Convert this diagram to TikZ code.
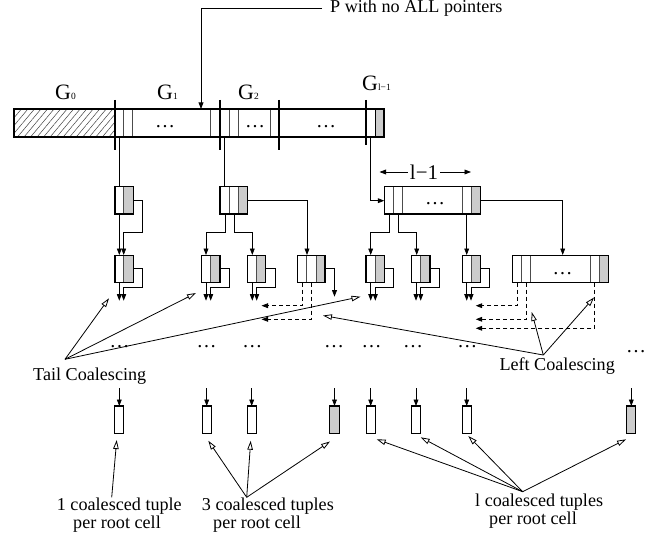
\documentclass[tikz,border=0pt]{standalone}
\usepackage{fontspec}
\setmainfont{Liberation Serif}
\usetikzlibrary{arrows.meta,patterns.meta}
\definecolor{cellgray}{RGB}{204,204,204}
\tikzset{
 ln/.style={line width=0.8bp},
 boxl/.style={line width=1.1bp},
 slot/.style={line width=0.7bp, black!70},
 sep/.style={line width=2.2bp},
 arr/.style={ln, -{Triangle[length=6.5bp,width=4.8bp]}},
 oarr/.style={ln, -{Triangle[length=9bp,width=5.5bp,fill=white]}},
 darr/.style={arr, dash pattern=on 4bp off 3bp},
 lbl/.style={inner sep=0pt, font=\fontsize{18.2}{20}\selectfont, anchor=base west},
 dotsn/.style={inner sep=0pt, font=\fontsize{20}{20}\selectfont, anchor=base},
 glbl/.style={inner sep=0pt, anchor=base west},
}
\newcommand\mycell[5]{%
 \fill[cellgray] (#2,255.3) rectangle (#3,282.7);
 \draw[slot] (#2,255.3) -- (#2,282.7);
 \draw[boxl] (#1,255.3) rectangle (#3,282.7);
 \draw[arr] (#3,268.7) -- (#4,268.7) -- (#4,287.3) -- (#2,287.3) -- (#2,300.7);
 \draw[arr] (#5,282.7) -- (#5,300.7);
}
\newcommand\myleaf[2]{%
 \fill[#2] (#1-4.6,406) rectangle (#1+4.6,433.3);
 \draw[boxl] (#1-4.6,406) rectangle (#1+4.6,433.3);
 \draw[arr] (#1,388) -- (#1,406);
}
\begin{document}
\begin{tikzpicture}[x=1bp,y=-1bp]
\useasboundingbox (0,0) rectangle (660,539);

% ---------- top bar ----------
\fill[cellgray] (375.7,109) rectangle (384,137);
\fill[pattern={Lines[angle=50,distance=5bp,line width=0.5bp]}, pattern color=black!75] (14,109) rectangle (115,137);
\foreach \x in {123.7,132.7,210.7,229.3,238,270.7} \draw[slot] (\x,109) -- (\x,137);
\draw[boxl] (375.7,109) -- (375.7,137);
\draw[boxl] (14,109) rectangle (384,137);
\foreach \x in {115,220,279.3} \draw[sep] (\x,100) -- (\x,150);
\draw[sep] (366,100) -- (366,145);
\node[dotsn] (d1) at (165,128) {…};
\node[dotsn] (d2) at (255,128) {…};
\node[dotsn] (d3) at (326,128) {…};

\node[glbl] (g0) at (55,100) {{\fontsize{22}{22}\selectfont G}{\fontsize{9.5}{9.5}\selectfont 0}};
\node[glbl] (g1) at (157,100) {{\fontsize{22}{22}\selectfont G}{\fontsize{9.5}{9.5}\selectfont 1}};
\node[glbl] (g2) at (238,100) {{\fontsize{22}{22}\selectfont G}{\fontsize{9.5}{9.5}\selectfont 2}};
\node[glbl] (gl) at (362,91) {{\fontsize{22}{22}\selectfont G}{\fontsize{9.5}{9.5}\selectfont l−1}};

\node[lbl] (ptxt) at (330,12.7) {P with no ALL pointers};
\coordinate (pfrom) at (322,8);
\coordinate (pto) at (201,109);
\draw[arr] (pfrom) -| (pto);

% ---------- drops from bar ----------
\draw[ln] (119.3,137) -- (119.3,186.7);
\draw[ln] (224.3,137) -- (224.3,186.7);
\draw[arr] (370.7,137) |- (384.3,200.7);

% ---------- left column (G1) ----------
\fill[cellgray] (123.7,186.7) rectangle (133.3,214);
\draw[slot] (123.7,186.7) -- (123.7,214);
\draw[boxl] (115,186.7) rectangle (133.3,214);
\draw[arr] (119.3,214) -- (119.3,255);
\draw[arr] (133.3,200.7) -- (142.3,200.7) -- (142.3,232.3) -- (123.7,232.3) -- (123.7,255);
\mycell{115}{123.7}{133.3}{142.3}{119.3}

% ---------- middle column (G2) ----------
\fill[cellgray] (238.3,186.7) rectangle (247.3,214);
\draw[slot] (229,186.7) -- (229,214);
\draw[slot] (238.3,186.7) -- (238.3,214);
\draw[boxl] (220,186.7) rectangle (247.3,214);
\draw[arr] (247.3,200.7) -| (307,255);
\draw[arr] (225,214) -- (225,232.3) -- (206,232.3) -- (206,255);
\draw[arr] (234,214) -- (234,232.3) -- (252.3,232.3) -- (252.3,255);
\mycell{201.7}{210.7}{220}{229.3}{206}
\mycell{247.3}{256.7}{265.7}{275}{252.3}
\fill[cellgray] (316,255.3) rectangle (325,282.7);
\draw[slot] (306.7,255.3) -- (306.7,282.7);
\draw[slot] (316,255.3) -- (316,282.7);
\draw[boxl] (297.3,255.3) rectangle (325,282.7);
\draw[arr] (325,268.7) -- (334.5,268.7) -- (334.5,296.7);
\draw[darr] (302,282.7) |- (261.5,305.7);
\draw[darr] (311.3,282.7) |- (261.5,319.3);

% ---------- right column (G_{l-1}) ----------
\fill[cellgray] (471,186.7) rectangle (480.7,214);
\foreach \x in {393.3,402.3,462.3,471} \draw[slot] (\x,186.7) -- (\x,214);
\draw[boxl] (384.3,186.7) rectangle (480.7,214);
\node[dotsn] (d4) at (435,204.5) {…};
\node[inner sep=2bp, font=\fontsize{21}{21}\selectfont] (dim) at (424,172) {l−1};
\draw[arr] (dim.west) -- (379.5,172);
\draw[arr] (dim.east) -- (471,172);
\draw[arr] (480.7,200.7) -| (562.7,255);
\draw[arr] (389.3,214) -- (389.3,232.3) -- (370.7,232.3) -- (370.7,255);
\draw[arr] (398.3,214) -- (398.3,232.3) -- (416.7,232.3) -- (416.7,255);
\draw[arr] (466.7,214) -- (466.7,255);
\mycell{366}{375.3}{384.3}{393.3}{370.7}
\mycell{411.7}{420.7}{430}{439.3}{416}
\mycell{462.3}{471}{480.7}{489.3}{466.7}
\fill[cellgray] (599.3,255.3) rectangle (608.3,282.7);
\foreach \x in {521.7,530.7,590,599.3} \draw[slot] (\x,255.3) -- (\x,282.7);
\draw[boxl] (512.3,255.3) rectangle (608.3,282.7);
\node[dotsn] (d5) at (562.7,274) {…};
\draw[darr] (517,282.7) |- (475.7,305.7);
\draw[darr] (526,282.7) |- (475.7,319.3);
\draw[darr] (594.7,282.7) |- (475.7,328.3);

% ---------- row of dots ----------
\foreach \x in {119.5,206.7,252.3,334} \node[dotsn] at (\x,347.5) {…};
\foreach \x in {371.7,413,467.3} \node[dotsn] at (\x,347) {…};
\node[dotsn] at (636,352) {…};

% ---------- coalescing labels ----------
\node[lbl] (tail) at (33,380) {Tail Coalescing};
\coordinate (tailo) at (65,359.3);
\draw[oarr] (tailo) -- (109,298.3);
\draw[oarr] (tailo) -- (196,293);
\draw[oarr] (tailo) -- (360.5,296.7);

\node[lbl] (left) at (499.3,370) {Left Coalescing};
\coordinate (lefto) at (543.3,355);
\draw[oarr] (lefto) -- (323,315.5);
\draw[oarr] (lefto) -- (531.7,312);
\draw[oarr] (lefto) -- (594,297.5);

% ---------- leaves ----------
\myleaf{119.3}{white}
\myleaf{206.7}{white}
\myleaf{251.7}{white}
\myleaf{334.5}{cellgray}
\myleaf{370.7}{white}
\myleaf{416}{white}
\myleaf{466.7}{white}
\myleaf{631.3}{cellgray}

% ---------- bottom labels ----------
\node[lbl] (c1a) at (56.7,510.5) {1 coalesced tuple};
\node[lbl] (c1b) at (73,528.3) {per root cell};
\coordinate (o1) at (111.7,497.3);
\draw[oarr] (o1) -- (116.7,440);

\node[lbl] (c3a) at (201.7,510.5) {3 coalesced tuples};
\node[lbl] (c3b) at (213,528.3) {per root cell};
\coordinate (o3) at (246.7,497.3);
\draw[oarr] (o3) -- (208.3,440.7);
\draw[oarr] (o3) -- (250.7,440.7);
\draw[oarr] (o3) -- (330,441.5);

\node[lbl] (cla) at (475,506.7) {l coalesced tuples};
\node[lbl] (clb) at (489,524) {per root cell};
\coordinate (ol) at (522.7,491.7);
\draw[oarr] (ol) -- (376.7,439.3);
\draw[oarr] (ol) -- (420.7,437.3);
\draw[oarr] (ol) -- (468.3,436);
\draw[oarr] (ol) -- (626,439.3);
\end{tikzpicture}
\end{document}
